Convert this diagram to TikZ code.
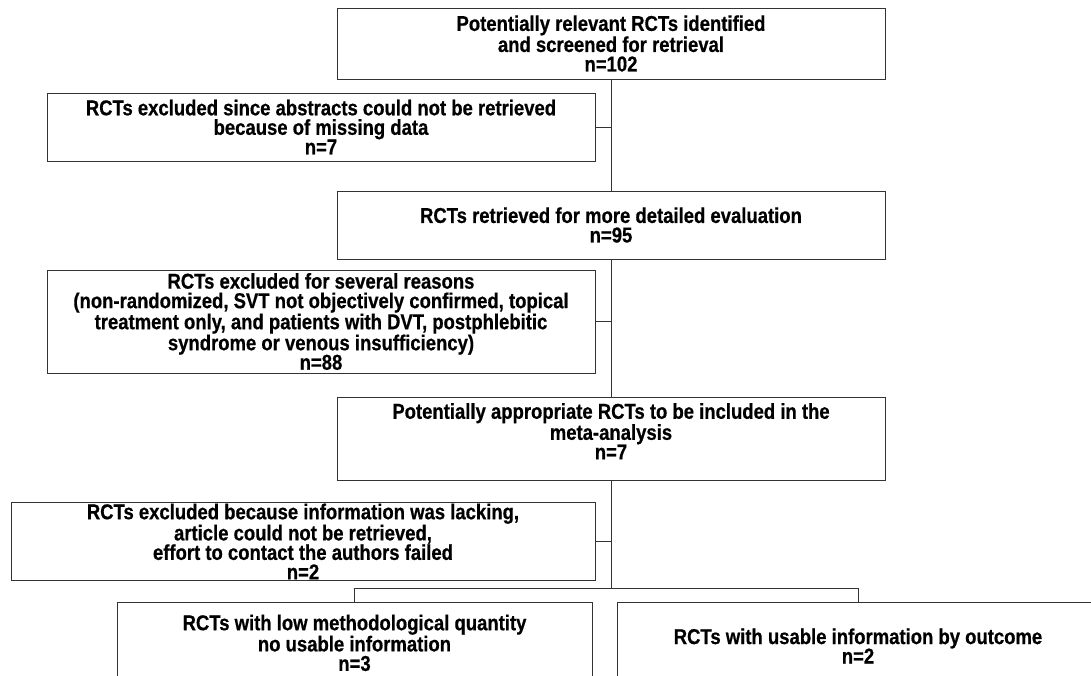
\documentclass[tikz,border=0pt]{standalone}
\usepackage{fontspec}
\setmainfont{Liberation Sans}[FakeStretch=0.86, BoldFeatures={FakeBold=0.6}]
\begin{document}
\begin{tikzpicture}[x=1pt, y=-1pt,
    box/.style={draw=black!80, line width=1pt, align=center, inner sep=3pt,
        font=\fontsize{21.5}{19.5}\selectfont\bfseries},
    link/.style={draw=black!80, line width=1pt}]
    \useasboundingbox (0,0) rectangle (1091,675);
    \clip (0,0) rectangle (1091,675);
    \node[box, minimum width=548, minimum height=71] (ident) at (611,43.5)
        {Potentially relevant RCTs identified\\and screened for retrieval\\n=102};
    \node[box, minimum width=548, minimum height=68] (nodata) at (321,127)
        {RCTs excluded since abstracts could not be retrieved\\because of missing data\\n=7};
    \node[box, minimum width=548, minimum height=68] (retr) at (611,225)
        {RCTs retrieved for more detailed evaluation\\n=95};
    \node[box, minimum width=548, minimum height=103, inner ysep=1pt] (reasons) at (321,321.5)
        {RCTs excluded for several reasons\\(non-randomized, SVT not objectively confirmed, topical\\treatment only, and patients with DVT, postphlebitic\\syndrome or venous insufficiency)\\n=88};
    \node[box, minimum width=548, minimum height=83] (approp) at (611,438.5)
        {Potentially appropriate RCTs to be included in the\\meta-analysis\\n=7\\[-5pt]\mbox{}};
    \node[box, minimum width=584, minimum height=75, inner ysep=1pt] (lacking) at (303,541.5)
        {RCTs excluded because information was lacking,\\article could not be retrieved,\\effort to contact the authors failed\\n=2};
    \node[box, minimum width=475, minimum height=110, anchor=north] (lowq) at (354.5,602)
        {RCTs with low methodological quantity\\no usable information\\n=3\\[10pt]\mbox{}};
    \node[box, minimum width=482, minimum height=110, anchor=north] (usable) at (858,602)
        {RCTs with usable information by outcome\\n=2\\[3.5pt]\mbox{}};
    \coordinate (split) at (611,588);
    \draw[link] (ident) -- (retr);
    \draw[link] (retr) -- (approp);
    \draw[link] (approp) -- (split);
    \draw[link] (nodata.east) -- (nodata.east -| ident.south);
    \draw[link] (reasons.east) -- (reasons.east -| retr.south);
    \draw[link] (lacking.east) -- (lacking.east -| approp.south);
    \draw[link] (lowq.north) |- (split) -| (usable.north);
\end{tikzpicture}
\end{document}
